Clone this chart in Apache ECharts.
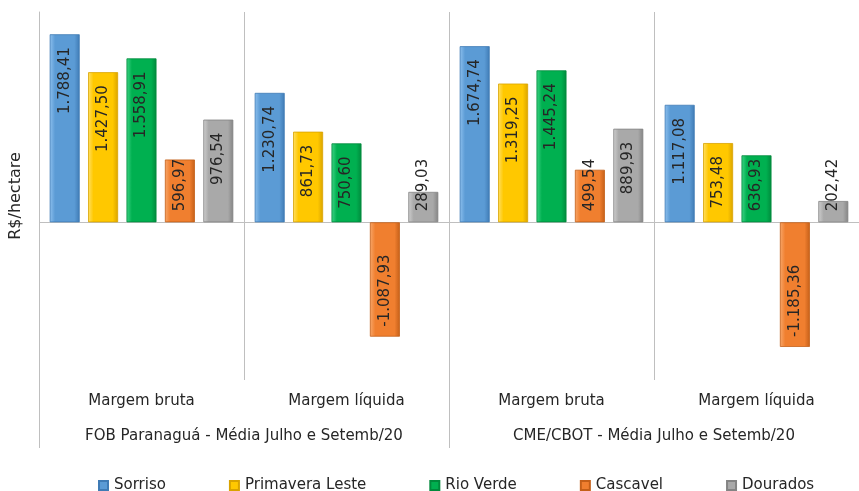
<!DOCTYPE html>
<html>
<head>
<meta charset="utf-8">
<script src="https://cdn.jsdelivr.net/npm/echarts@6/dist/echarts.min.js"></script>
<style>
  html, body { margin: 0; padding: 0; background: #fff; }
  #chart { width: 859px; height: 491px; }
</style>
</head>
<body>
<div id="chart"></div>
<script>
// Categories: margin type per price reference
const categories = ['Margem bruta', 'Margem líquida', 'Margem bruta', 'Margem líquida'];
const groups = ['FOB Paranaguá - Média Julho e Setemb/20', 'CME/CBOT - Média Julho e Setemb/20'];
const seriesNames = ['Sorriso', 'Primavera Leste', 'Rio Verde', 'Cascavel', 'Dourados'];

// R$/hectare
const sorriso   = [1788.41, 1230.74, 1674.74, 1117.08];
const primavera = [1427.50, 861.73, 1319.25, 753.48];
const rioVerde  = [1558.91, 750.60, 1445.24, 636.93];
const cascavel  = [596.97, -1087.93, 499.54, -1185.36];
const dourados  = [976.54, 289.03, 889.93, 202.42];

const seriesValues = [sorriso, primavera, rioVerde, cascavel, dourados];
const palette = [
  { light: '#8dc0ee', main: '#5b9bd5', dark: '#3f7bb5' },
  { light: '#ffe066', main: '#ffc800', dark: '#d9a300' },
  { light: '#3fd487', main: '#00b050', dark: '#008a3c' },
  { light: '#f8a76a', main: '#f07f2f', dark: '#c45f18' },
  { light: '#cfcfcf', main: '#a9a9a9', dark: '#848484' }
];

const FONT = 'DejaVu Sans';
const TEXT = '#262626';
const LINE = '#bfbfbf';

function fmtBR(v) {
  const neg = v < 0;
  const parts = Math.abs(v).toFixed(2).split('.');
  const intPart = parts[0].replace(/\B(?=(\d{3})+(?!\d))/g, '.');
  return (neg ? '-' : '') + intPart + ',' + parts[1];
}

function barGradient(c) {
  return new echarts.graphic.LinearGradient(0, 0, 1, 0, [
    { offset: 0, color: c.light },
    { offset: 0.18, color: c.main },
    { offset: 0.82, color: c.main },
    { offset: 1, color: c.dark }
  ]);
}

// Tall bars carry the label inside their top end; short ones anchor it near the baseline
function labelFor(v) {
  const base = {
    show: true,
    rotate: 90,
    fontFamily: FONT,
    fontSize: 15,
    color: TEXT,
    verticalAlign: 'middle',
    formatter: p => fmtBR(p.value)
  };
  if (v < 0) {
    return Object.assign(base, { position: 'insideBottom', align: 'left', distance: 10 });
  }
  if (v < 700) {
    return Object.assign(base, { position: 'insideBottom', align: 'left', distance: 11 });
  }
  return Object.assign(base, { position: 'insideTop', align: 'right', distance: 13 });
}

const series = seriesValues.map((vals, i) => {
  const s = {
    name: seriesNames[i],
    type: 'bar',
    xAxisIndex: 0,
    yAxisIndex: 0,
    barWidth: 30,
    barGap: '28%',
    itemStyle: {
      color: barGradient(palette[i]),
      borderColor: palette[i].dark,
      borderWidth: 0.8
    },
    data: vals.map(v => ({ value: v, label: labelFor(v) })),
    z: 3
  };
  if (i === 0) {
    s.markLine = {
      silent: true,
      symbol: 'none',
      label: { show: false },
      lineStyle: { color: LINE, width: 1, type: 'solid' },
      data: [{ yAxis: 0 }],
      z: 1
    };
  }
  return s;
});

const chart = echarts.init(document.getElementById('chart'), null, { renderer: 'canvas' });
chart.setOption({
  animation: false,
  backgroundColor: '#ffffff',
  textStyle: { fontFamily: FONT },
  grid: { left: 35, width: 836, top: 12, height: 368, containLabel: false },
  legend: {
    data: seriesNames,
    left: 93,
    top: 473,
    icon: 'rect',
    itemWidth: 9,
    itemHeight: 9,
    itemGap: 63,
    textStyle: { fontFamily: FONT, fontSize: 15, color: TEXT, padding: [0, 0, 0, 1] }
  },
  xAxis: [
    {
      type: 'category',
      data: categories,
      position: 'bottom',
      axisLine: { show: false },
      axisTick: { show: false },
      splitLine: { show: true, interval: 0, lineStyle: { color: LINE, width: 1 } },
      axisLabel: { interval: 0, fontFamily: FONT, fontSize: 15, color: TEXT, margin: 14 }
    },
    {
      type: 'category',
      data: groups,
      position: 'bottom',
      axisLine: { show: false },
      axisTick: { show: true, interval: 0, length: 68, lineStyle: { color: LINE, width: 1 } },
      splitLine: { show: false },
      axisLabel: { interval: 0, fontFamily: FONT, fontSize: 15, color: TEXT, margin: 49 }
    }
  ],
  yAxis: {
    type: 'value',
    min: -1500,
    max: 2000,
    axisLine: { show: true, lineStyle: { color: LINE, width: 1 } },
    axisTick: { show: false },
    axisLabel: { show: false },
    splitLine: { show: false },
    name: 'R$/hectare',
    nameLocation: 'middle',
    nameRotate: 90,
    nameGap: 15,
    nameTextStyle: { fontFamily: FONT, fontSize: 16, color: TEXT }
  },
  series: series
});
</script>
</body>
</html>
